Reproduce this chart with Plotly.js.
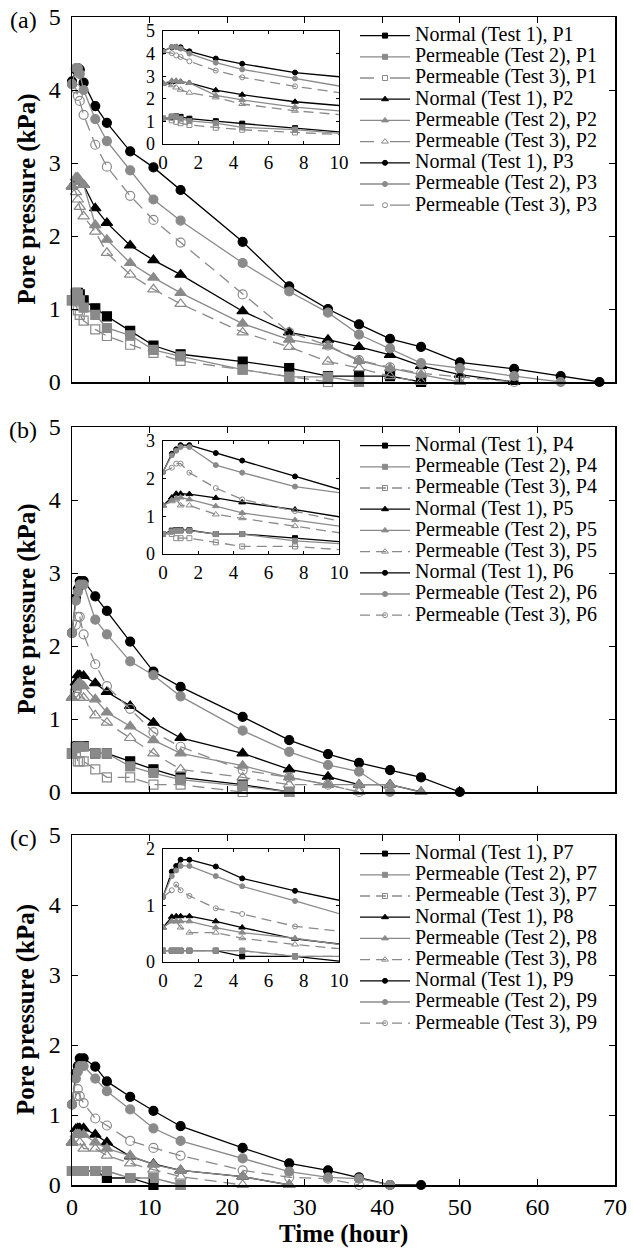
<!DOCTYPE html>
<html><head><meta charset="utf-8">
<script src="https://cdn.plot.ly/plotly-3.0.1.min.js"></script>
<style>html,body{margin:0;padding:0;background:#fff}</style>
</head><body><div id="chart" style="width:633px;height:1251px"></div>
<script>
// ---- data (hours, kPa) ----
const timeHours = [0, 0.5, 0.75, 1, 1.5, 3, 4.5, 7.5, 10.5, 14, 22, 28, 33, 37, 41, 45, 50, 57, 63, 68];

// panel (a)
const p1Normal = [1.12, 1.20, 1.22, 1.20, 1.12, 1.01, 0.90, 0.70, 0.50, 0.38, 0.28, 0.19, 0.08, 0.08, 0.08, 0.0];
const p1Test2  = [1.12, 1.22, 1.20, 1.12, 1.02, 0.92, 0.74, 0.64, 0.44, 0.35, 0.17, 0.07, 0.07, 0.0];
const p1Test3  = [1.12, 1.05, 0.98, 0.92, 0.84, 0.72, 0.63, 0.51, 0.40, 0.29, 0.17, 0.07, 0.0];
const p2Normal = [2.68, 2.75, 2.78, 2.75, 2.70, 2.38, 2.18, 1.87, 1.67, 1.47, 0.97, 0.68, 0.58, 0.48, 0.37, 0.22, 0.10, 0.0];
const p2Test2  = [2.68, 2.80, 2.80, 2.75, 2.70, 2.15, 1.95, 1.63, 1.43, 1.22, 0.80, 0.58, 0.49, 0.29, 0.19, 0.10, 0.0];
const p2Test3  = [2.68, 2.60, 2.50, 2.40, 2.27, 2.06, 1.77, 1.47, 1.27, 1.07, 0.68, 0.48, 0.28, 0.19, 0.08, 0.0];
const p3Normal = [4.12, 4.28, 4.30, 4.28, 4.10, 3.78, 3.55, 3.16, 2.94, 2.63, 1.92, 1.31, 1.00, 0.79, 0.59, 0.48, 0.27, 0.18, 0.08, 0.0];
const p3Test2  = [4.08, 4.30, 4.30, 4.22, 4.00, 3.60, 3.30, 2.90, 2.50, 2.21, 1.63, 1.24, 0.95, 0.65, 0.46, 0.26, 0.19, 0.08, 0.0];
const p3Test3  = [4.08, 4.02, 3.92, 3.85, 3.66, 3.25, 2.95, 2.55, 2.22, 1.91, 1.20, 0.68, 0.50, 0.30, 0.20, 0.12, 0.07, 0.0];

// panel (b)
const p4Normal = [0.53, 0.62, 0.63, 0.63, 0.63, 0.53, 0.53, 0.42, 0.31, 0.20, 0.10, 0.0];
const p4Test2  = [0.53, 0.60, 0.62, 0.62, 0.62, 0.53, 0.53, 0.35, 0.26, 0.17, 0.08, 0.0];
const p4Test3  = [0.53, 0.53, 0.42, 0.42, 0.42, 0.31, 0.20, 0.20, 0.10, 0.10, 0.0];
const p5Normal = [1.29, 1.50, 1.60, 1.60, 1.59, 1.49, 1.37, 1.18, 0.95, 0.74, 0.53, 0.31, 0.21, 0.10, 0.10, 0.0];
const p5Test2  = [1.29, 1.43, 1.48, 1.50, 1.45, 1.27, 1.09, 0.90, 0.71, 0.53, 0.36, 0.20, 0.10, 0.10, 0.10, 0.0];
const p5Test3  = [1.29, 1.40, 1.45, 1.29, 1.29, 1.05, 0.95, 0.74, 0.53, 0.31, 0.20, 0.10, 0.10, 0.0];
const p6Normal = [2.18, 2.66, 2.78, 2.89, 2.89, 2.68, 2.48, 2.06, 1.65, 1.44, 1.03, 0.71, 0.52, 0.40, 0.30, 0.20, 0.0];
const p6Test2  = [2.18, 2.62, 2.74, 2.84, 2.84, 2.36, 2.16, 1.79, 1.60, 1.31, 0.84, 0.55, 0.37, 0.28, 0.0];
const p6Test3  = [2.18, 2.29, 2.40, 2.40, 2.16, 1.75, 1.45, 1.14, 0.82, 0.62, 0.30, 0.20, 0.10, 0.0];

// panel (c)
const p7Normal = [0.2, 0.2, 0.2, 0.2, 0.2, 0.2, 0.1, 0.1, 0.0];
const p7Test2  = [0.2, 0.2, 0.2, 0.2, 0.2, 0.2, 0.2, 0.1, 0.1, 0.0];
const p7Test3  = [0.2, 0.2, 0.2, 0.2, 0.2, 0.2, 0.2, 0.1, 0.1, 0.0];
const p8Normal = [0.61, 0.80, 0.81, 0.81, 0.81, 0.72, 0.61, 0.41, 0.30, 0.21, 0.12, 0.0];
const p8Test2  = [0.61, 0.72, 0.72, 0.72, 0.72, 0.61, 0.52, 0.42, 0.29, 0.21, 0.12, 0.0];
const p8Test3  = [0.61, 0.72, 0.72, 0.61, 0.52, 0.52, 0.42, 0.31, 0.22, 0.12, 0.0];
const p9Normal = [1.15, 1.60, 1.70, 1.81, 1.81, 1.69, 1.48, 1.26, 1.06, 0.84, 0.53, 0.31, 0.21, 0.11, 0.0, 0.0];
const p9Test2  = [1.15, 1.52, 1.62, 1.70, 1.70, 1.52, 1.34, 1.08, 0.81, 0.63, 0.38, 0.19, 0.11, 0.09, 0.0];
const p9Test3  = [1.15, 1.27, 1.37, 1.27, 1.17, 0.95, 0.85, 0.63, 0.53, 0.42, 0.21, 0.11, 0.09, 0.0];

const testNames   = ['Normal (Test 1)', 'Permeable (Test 2)', 'Permeable (Test 3)'];
const sensorNames = [['P1', 'P2', 'P3'], ['P4', 'P5', 'P6'], ['P7', 'P8', 'P9']];
const panelLabels = ['(a)', '(b)', '(c)'];
const mainXTicks  = [0, 10, 20, 30, 40, 50, 60, 70];
const mainYTicks  = [0, 1, 2, 3, 4, 5];
const insetXTicks = [0, 2, 4, 6, 8, 10];
const insetYMax   = [5, 3, 2];
const yTitle = 'Pore pressure (kPa)';
const xTitle = 'Time (hour)';

const panelSeries = [
  [[p1Normal, p1Test2, p1Test3], [p2Normal, p2Test2, p2Test3], [p3Normal, p3Test2, p3Test3]],
  [[p4Normal, p4Test2, p4Test3], [p5Normal, p5Test2, p5Test3], [p6Normal, p6Test2, p6Test3]],
  [[p7Normal, p7Test2, p7Test3], [p8Normal, p8Test2, p8Test3], [p9Normal, p9Test2, p9Test3]]
];

// ---- styling / geometry ----
const FONT = '"Liberation Serif", "Times New Roman", Times, serif';
const GRAY = '#8a8a8a';
const W = 633, H = 1251, M = {l: 72, r: 18, t: 17, b: 66};
const plotW = W - M.l - M.r, plotH = H - M.t - M.b;
const px = p => (p - M.l) / plotW;
const py = p => (H - M.b - p) / plotH;
const panelTops = [17, 427, 835], panelBottoms = [382, 792, 1185];
const insetLeft = 163, insetRight = 339, insetOff = 14, insetH = 113;

const symbolsFilled = ['square', 'triangle-up', 'circle'];
const symbolsOpen = ['square-open', 'triangle-up-open', 'circle-open'];
function styleFor(test, sensor) {
  if (test === 0) return {color: '#000', dash: 'solid', symbol: symbolsFilled[sensor]};
  if (test === 1) return {color: GRAY, dash: 'solid', symbol: symbolsFilled[sensor]};
  return {color: GRAY, dash: '12px,7px', symbol: symbolsOpen[sensor]};
}

const traces = [];
const insetTraces = [];
for (let p = 0; p < 3; p++) {
  const mx = p === 0 ? 'x' : 'x' + (p + 1), my = p === 0 ? 'y' : 'y' + (p + 1);
  const ix = 'x' + (p + 4), iy = 'y' + (p + 4);
  const legendId = p === 0 ? 'legend' : 'legend' + (p + 1);
  for (let s = 0; s < 3; s++) {
    for (let t = 0; t < 3; t++) {
      const vals = panelSeries[p][s][t];
      const xs = timeHours.slice(0, vals.length);
      const st = styleFor(t, s);
      traces.push({
        type: 'scatter', mode: 'lines+markers', x: xs, y: vals, xaxis: mx, yaxis: my,
        line: {color: st.color, width: 1.3, dash: st.dash},
        marker: {symbol: st.symbol, size: s === 1 ? 10 : 9, color: st.color, line: {color: st.color, width: 1.2}},
        cliponaxis: false, showlegend: false, hoverinfo: 'skip'
      });
      const ixs = xs.filter(v => v <= 10.5);
      insetTraces.push({
        type: 'scatter', mode: 'lines+markers', x: ixs, y: vals.slice(0, ixs.length), xaxis: ix, yaxis: iy,
        line: {color: st.color, width: 1.3, dash: t === 2 ? '10px,6px' : 'solid'},
        marker: {symbol: st.symbol, size: s === 1 ? 6 : 5, color: st.color, line: {color: st.color, width: 1}},
        cliponaxis: true, legend: legendId, showlegend: true,
        name: '<span style="font-size:20px">' + testNames[t] + ', ' + sensorNames[p][s] + '</span>'
      });
    }
  }
}

const layout = {
  width: W, height: H, margin: M, paper_bgcolor: '#fff', plot_bgcolor: 'rgba(0,0,0,0)',
  font: {family: FONT, color: '#000'}, showlegend: true, annotations: []
};
const axisCommon = {
  showline: true, linecolor: '#000', linewidth: 1.5, mirror: 'allticks', ticks: 'inside',
  tickcolor: '#000', tickwidth: 1, showgrid: false, zeroline: false, fixedrange: true
};
for (let p = 0; p < 3; p++) {
  const sfx = p === 0 ? '' : String(p + 1);
  const top = panelTops[p], bottom = panelBottoms[p];
  layout['xaxis' + sfx] = Object.assign({}, axisCommon, {
    domain: [0, 1], range: [0, 70], anchor: 'y' + sfx, tickvals: mainXTicks,
    ticktext: mainXTicks.map(String), showticklabels: p === 2, ticklen: 6,
    tickfont: {family: FONT, size: 24, color: '#000'}, ticklabelstandoff: 0
  });
  layout['yaxis' + sfx] = Object.assign({}, axisCommon, {
    domain: [py(bottom), py(top)], range: [0, 5], anchor: 'x' + sfx, tickvals: mainYTicks,
    ticktext: mainYTicks.map(String), ticklen: 6,
    tickfont: {family: FONT, size: 24, color: '#000'}, ticklabelstandoff: 5
  });
  const isfx = String(p + 4);
  const itop = top + insetOff;
  const iyTicks = [];
  for (let v = 0; v <= insetYMax[p]; v++) iyTicks.push(v);
  layout['xaxis' + isfx] = Object.assign({}, axisCommon, {
    domain: [px(insetLeft), px(insetRight)], range: [0, 10], anchor: 'y' + isfx,
    tickvals: insetXTicks, ticktext: insetXTicks.map(String), ticklen: 3, linewidth: 1.3,
    tickfont: {family: FONT, size: 19, color: '#000'}, ticklabelstandoff: 1
  });
  layout['yaxis' + isfx] = Object.assign({}, axisCommon, {
    domain: [py(itop + insetH), py(itop)], range: [0, insetYMax[p]], anchor: 'x' + isfx,
    tickvals: iyTicks, ticktext: iyTicks.map(String), ticklen: 3, linewidth: 1.3,
    tickfont: {family: FONT, size: 18, color: '#000'}, ticklabelstandoff: 3
  });
  layout[p === 0 ? 'legend' : 'legend' + (p + 1)] = {
    x: px(355), xanchor: 'left', y: py(top + 3), yanchor: 'top',
    font: {family: FONT, size: 14, color: '#000'}, itemwidth: 50,
    bgcolor: 'rgba(0,0,0,0)', borderwidth: 0, tracegroupgap: 0
  };
  layout.annotations.push({
    xref: 'paper', yref: 'paper', x: px(39), y: py(top + 3), xanchor: 'right', yanchor: 'middle',
    text: panelLabels[p], showarrow: false, font: {family: FONT, size: 24, color: '#000'}
  });
  layout.annotations.push({
    xref: 'paper', yref: 'paper', x: px(26), y: py((top + bottom) / 2), xanchor: 'center', yanchor: 'middle',
    text: '<b>' + yTitle + '</b>', textangle: -90, showarrow: false,
    font: {family: FONT, size: 25, color: '#000'}
  });
}
layout.annotations.push({
  xref: 'paper', yref: 'paper', x: px((72 + 615) / 2), y: py(1234), xanchor: 'center', yanchor: 'middle',
  text: '<b>' + xTitle + '</b>', showarrow: false, font: {family: FONT, size: 25, color: '#000'}
});

function fixLegendDashes(gd) {
  gd.querySelectorAll('g.traces').forEach(g => {
    const txt = g.querySelector('.legendtext');
    if (txt && txt.textContent.indexOf('Test 3') >= 0) {
      g.querySelectorAll('path').forEach(pth => {
        const d = pth.getAttribute('d') || '';
        if (/^M5,0h/.test(d) || pth.classList.contains('js-line')) {
          pth.style.strokeDasharray = '14px,16px,20px';
          pth.setAttribute('stroke-dasharray', '14,16,20');
        }
      });
    }
  });
}

Plotly.newPlot('chart', traces.concat(insetTraces), layout, {staticPlot: true, displayModeBar: false})
  .then(gd => {
    fixLegendDashes(gd);
    gd.on('plotly_afterplot', () => fixLegendDashes(gd));
  });
</script>
</body></html>
